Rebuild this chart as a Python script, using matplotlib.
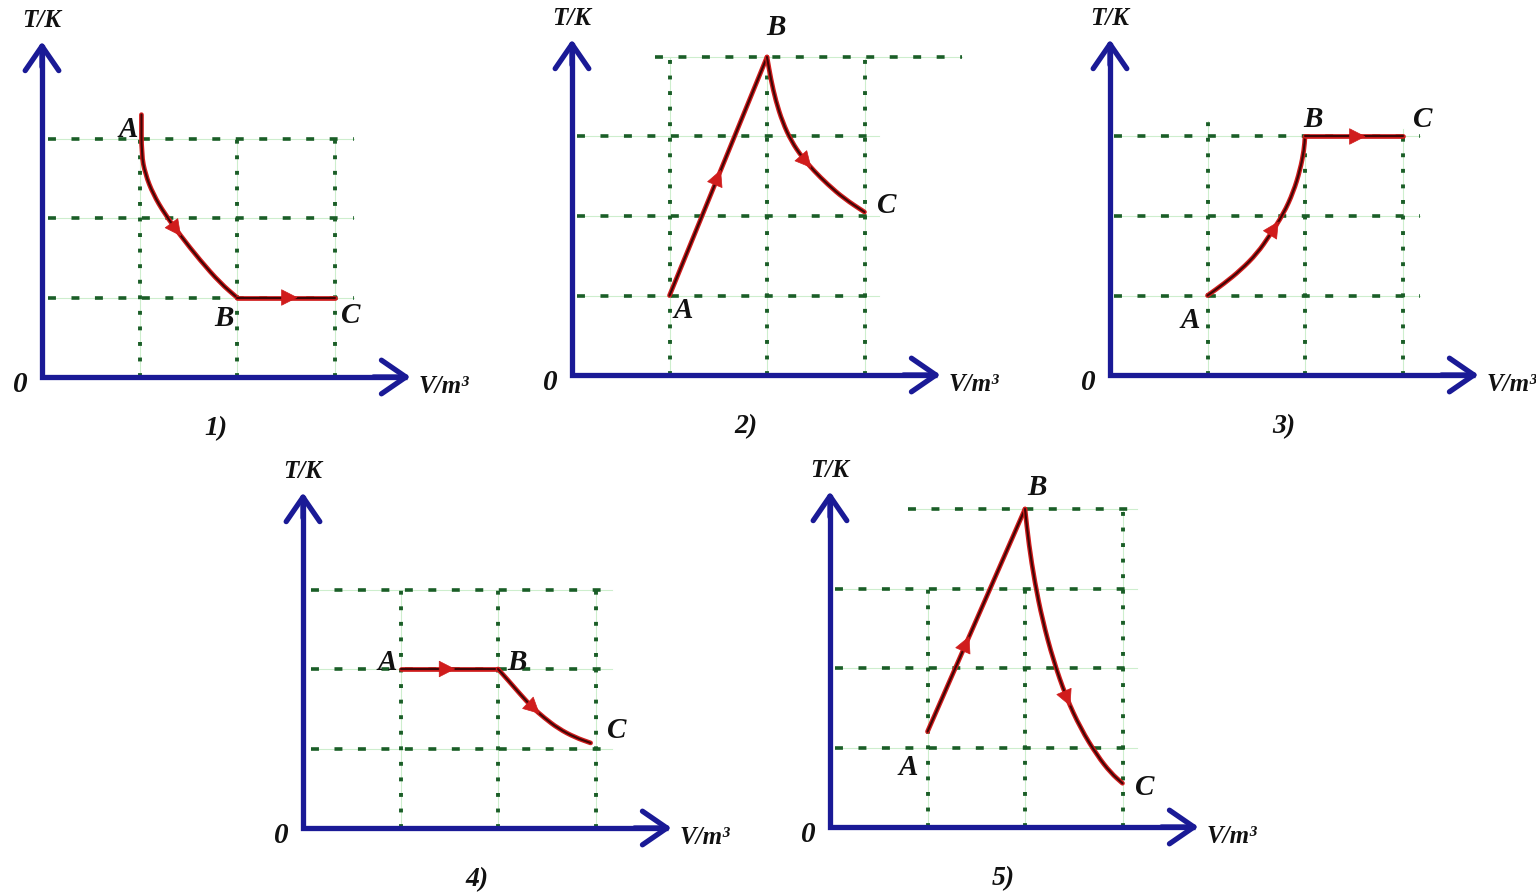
import numpy as np
import matplotlib
matplotlib.use("Agg")
import matplotlib.pyplot as plt
from matplotlib.path import Path
from matplotlib.patches import PathPatch

# ---- process data (V in grid units, T in grid units) ----
p1_ab_v = [1.02, 1.02, 1.06, 1.14, 1.26, 1.42, 1.62, 1.83, 2.00]
p1_ab_t = [3.30, 2.80, 2.55, 2.30, 2.05, 1.78, 1.47, 1.18, 1.00]
p1_bc_v = [2.0, 3.0]
p1_bc_t = [1.0, 1.0]

p2_ab_v = [1.0, 2.0]
p2_ab_t = [1.0, 4.0]
p2_bc_v = [2.00, 2.04, 2.09, 2.16, 2.25, 2.36, 2.48, 2.62, 2.79, 3.00]
p2_bc_t = [4.00, 3.72, 3.45, 3.18, 2.94, 2.74, 2.57, 2.40, 2.22, 2.05]

p3_ab_v = [1.00, 1.17, 1.34, 1.51, 1.64, 1.78, 1.88, 1.95, 1.99, 2.00]
p3_ab_t = [1.00, 1.15, 1.32, 1.53, 1.76, 2.03, 2.30, 2.58, 2.83, 3.00]
p3_bc_v = [2.0, 3.0]
p3_bc_t = [3.0, 3.0]

p4_ab_v = [1.0, 2.0]
p4_ab_t = [2.0, 2.0]
p4_bc_v = [2.00, 2.11, 2.23, 2.35, 2.47, 2.62, 2.79, 2.95]
p4_bc_t = [2.00, 1.85, 1.68, 1.52, 1.39, 1.25, 1.14, 1.07]

p5_ab_v = [1.0, 2.0]
p5_ab_t = [1.2, 4.0]
p5_bc_v = [2.00, 2.04, 2.10, 2.18, 2.29, 2.42, 2.57, 2.74, 2.88, 3.00]
p5_bc_t = [4.00, 3.55, 3.08, 2.60, 2.10, 1.64, 1.24, 0.90, 0.68, 0.55]

panel_titles = ["1)", "2)", "3)", "4)", "5)"]
point_names = ["A", "B", "C"]
y_label = "T/K"
x_label = "V/m³"
origin_label = "0"

# ---- style ----
W, H = 1536, 894
SX, SY = 97.5, 79.5            # pixels per grid unit
XL = (-0.5, 4.8)
YL = (-0.8, 4.6)
BLUE = "#1a1a96"
GREEN = "#1a5e27"
LIGHT_GREEN = "#cdeecd"
RED = "#d01c1c"
DARK_RED = "#3e0606"
FONT = dict(family="Liberation Serif", weight="bold", style="italic", color="#111111")

panels = [
    dict(origin=(42, 377), title=panel_titles[0],
         segs=[(p1_ab_v, p1_ab_t, 0.58), (p1_bc_v, p1_bc_t, 0.55)],
         hlines=[(1, 0.06, 3.2), (2, 0.06, 3.2), (3, 0.06, 3.2)],
         vlines=[(1, 0, 3), (2, 0, 3), (3, 0, 3)],
         offs=[(-13, -15), (-13, -21), (16, -18)]),
    dict(origin=(572, 375), title=panel_titles[1],
         segs=[(p2_ab_v, p2_ab_t, 0.5), (p2_bc_v, p2_bc_t, 0.6)],
         hlines=[(1, 0.05, 3.15), (2, 0.05, 3.15), (3, 0.05, 3.15), (4, 0.85, 4.0)],
         vlines=[(1, 0, 4), (2, 0, 4), (3, 0, 4)],
         offs=[(14, -15), (9, 29), (22, 7)]),
    dict(origin=(1110, 375), title=panel_titles[2],
         segs=[(p3_ab_v, p3_ab_t, 0.5), (p3_bc_v, p3_bc_t, 0.55)],
         hlines=[(1, 0.04, 3.18), (2, 0.04, 3.18), (3, 0.04, 3.18)],
         vlines=[(1, 0, 3.2), (2, 0, 3.0), (3, 0, 3.1)],
         offs=[(-17, -25), (8, 17), (20, 17)]),
    dict(origin=(303, 828), title=panel_titles[3],
         segs=[(p4_ab_v, p4_ab_t, 0.49), (p4_bc_v, p4_bc_t, 0.45)],
         hlines=[(1, 0.08, 3.17), (2, 0.08, 3.17), (3, 0.08, 3.17)],
         vlines=[(1, 0, 3), (2, 0, 3), (3, 0, 3)],
         offs=[(-13, 6), (19, 6), (26, 12)]),
    dict(origin=(830, 827), title=panel_titles[4],
         segs=[(p5_ab_v, p5_ab_t, 0.4), (p5_bc_v, p5_bc_t, 0.66)],
         hlines=[(1, 0.05, 3.15), (2, 0.05, 3.15), (3, 0.05, 3.15), (4, 0.8, 3.15)],
         vlines=[(1, 0, 3), (2, 0, 3), (3, 0, 4)],
         offs=[(-19, -36), (12, 21), (22, -4)]),
]


def smooth_path(v, t):
    """Quadratic Bezier path through the midpoints of the sampled curve."""
    pts = np.column_stack([v, t])
    if len(pts) < 3:
        return Path(pts, [Path.MOVETO] + [Path.LINETO] * (len(pts) - 1))
    verts = [pts[0], (pts[0] + pts[1]) / 2]
    codes = [Path.MOVETO, Path.LINETO]
    for i in range(1, len(pts) - 1):
        verts += [pts[i], (pts[i] + pts[i + 1]) / 2]
        codes += [Path.CURVE3, Path.CURVE3]
    verts.append(pts[-1])
    codes.append(Path.LINETO)
    return Path(np.array(verts), codes)


def point_along(pts, cum, s):
    s = min(max(s, 0.0), cum[-1])
    i = int(np.clip(np.searchsorted(cum, s) - 1, 0, len(pts) - 2))
    seg = cum[i + 1] - cum[i]
    f = 0.0 if seg == 0 else (s - cum[i]) / seg
    return pts[i] + f * (pts[i + 1] - pts[i])


def flow_arrow(ax, path, frac):
    pts = ax.transData.transform(path.interpolated(40).vertices)
    cum = np.concatenate([[0.0], np.cumsum(np.hypot(*np.diff(pts, axis=0).T))])
    s = frac * cum[-1]
    inv = ax.transData.inverted()
    tip = inv.transform(point_along(pts, cum, s + 7))
    tail = inv.transform(point_along(pts, cum, s - 7))
    ax.annotate("", xy=tip, xytext=tail,
                arrowprops=dict(arrowstyle="-|>,head_length=0.55,head_width=0.28",
                                mutation_scale=20, color=RED, lw=0.5,
                                shrinkA=0, shrinkB=0), zorder=6)


fig = plt.figure(figsize=(W / 100, H / 100), dpi=100)
fig.patch.set_facecolor("white")

for p in panels:
    ox, oy = p["origin"]
    left = ox + XL[0] * SX
    right = ox + XL[1] * SX
    top = oy - YL[1] * SY
    bottom = oy - YL[0] * SY
    ax = fig.add_axes([left / W, (H - bottom) / H, (right - left) / W, (bottom - top) / H])
    ax.set_xlim(*XL)
    ax.set_ylim(*YL)
    ax.axis("off")
    ax.patch.set_visible(False)

    # dashed (horizontal) and dotted (vertical) grid
    for t, a, b in p["hlines"]:
        ax.plot([a, b], [t, t], color=LIGHT_GREEN, lw=0.8, zorder=1)
        ax.plot([a, b], [t, t], color=GREEN, lw=2.6, dashes=(2.2, 4.3), zorder=2)
    for v, a, b in p["vlines"]:
        ax.plot([v, v], [a, b], color=LIGHT_GREEN, lw=0.8, zorder=1)
        ax.plot([v, v], [a, b], color=GREEN, lw=2.8, dashes=(1.0, 3.0), zorder=2)

    # axes with open arrowheads
    ax.plot([0, 0, 3.74], [4.18, 0, 0], color=BLUE, lw=3.8,
            solid_joinstyle="miter", solid_capstyle="butt", zorder=4)
    head = dict(arrowstyle="->,head_length=0.8,head_width=0.55", mutation_scale=22,
                lw=3.8, color=BLUE, shrinkA=0, shrinkB=0)
    ax.annotate("", xy=(0, 4.22), xytext=(0, 3.9), arrowprops=head, zorder=4)
    ax.annotate("", xy=(3.78, 0), xytext=(3.4, 0), arrowprops=head, zorder=4)

    # process curves
    paths = [smooth_path(v, t) for v, t, _ in p["segs"]]
    for path in paths:
        ax.add_patch(PathPatch(path, fill=False, edgecolor=RED, lw=3.4,
                               capstyle="round", joinstyle="round", zorder=5))
        ax.add_patch(PathPatch(path, fill=False, edgecolor=DARK_RED, lw=1.5,
                               capstyle="round", joinstyle="round", zorder=5))
    for path, (_, _, frac) in zip(paths, p["segs"]):
        flow_arrow(ax, path, frac)

    # state labels
    (va, ta, _), (vc, tc, _) = p["segs"]
    states = [(va[0], ta[0]), (va[-1], ta[-1]), (vc[-1], tc[-1])]
    for name, xy, off in zip(point_names, states, p["offs"]):
        ax.annotate(name, xy=xy, xytext=off, textcoords="offset pixels",
                    ha="center", va="center", fontsize=21, zorder=7, **FONT)

    ax.text(-0.225, -0.1, origin_label, ha="center", va="center", fontsize=21, **FONT)
    ax.text(0.0, 4.48, y_label, ha="center", va="center", fontsize=18, **FONT)
    ax.text(3.86, -0.12, x_label, ha="left", va="center", fontsize=18, **FONT)
    ax.text(1.78, -0.65, p["title"], ha="center", va="center", fontsize=20, **FONT)

fig.savefig("out.png", dpi=100, facecolor="white")
